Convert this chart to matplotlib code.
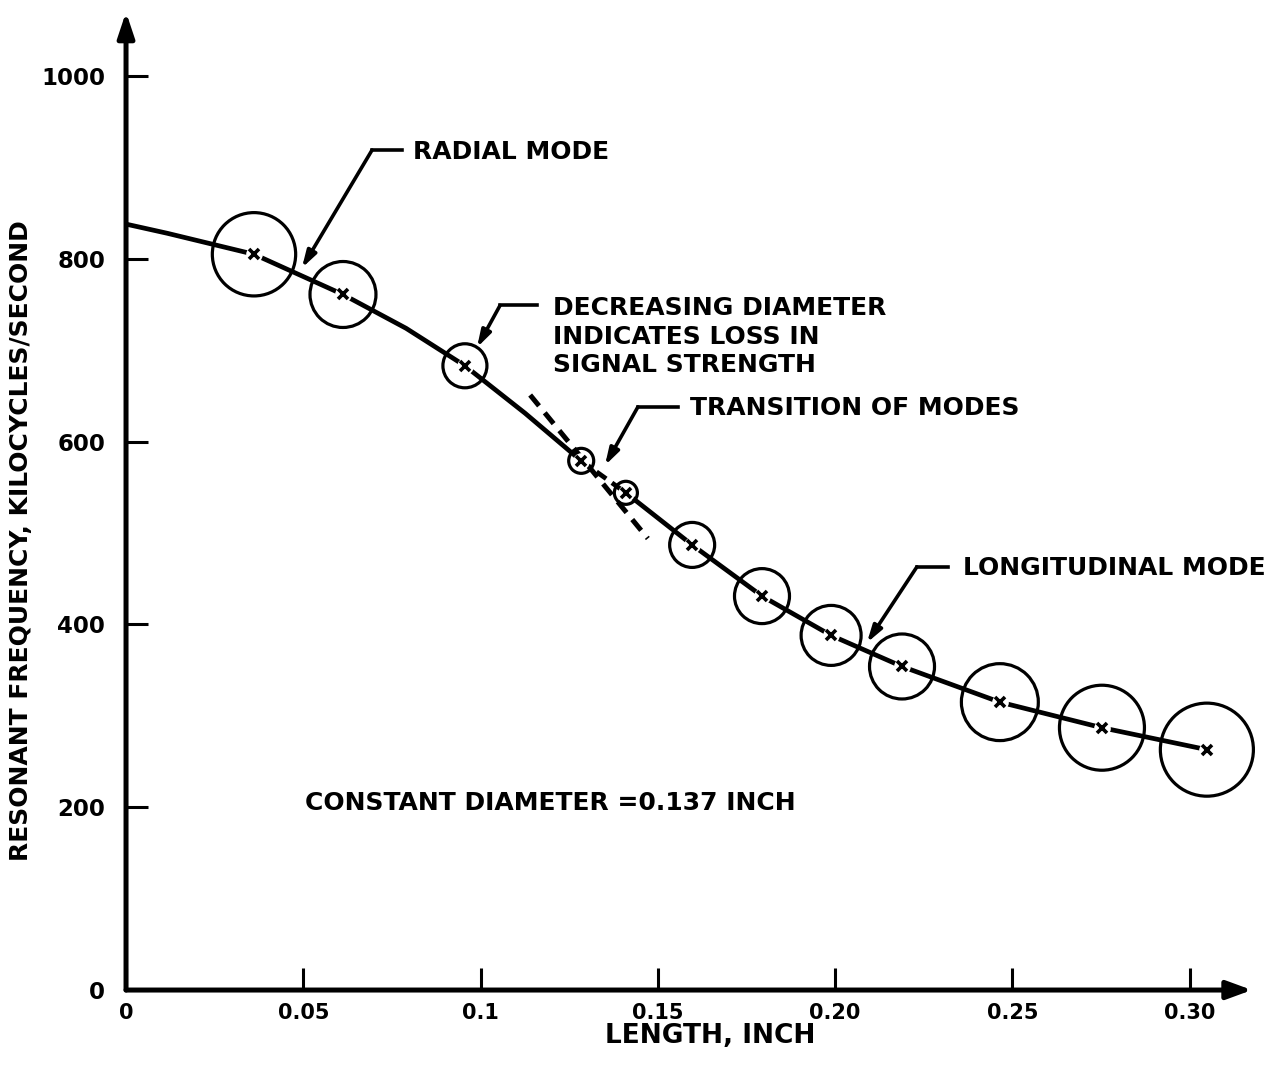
import matplotlib
matplotlib.use("Agg")
import matplotlib.pyplot as plt

# length (inch) vs resonant frequency (kc/s)
length_pts = [0.0361, 0.0612, 0.0956, 0.1284, 0.1410, 0.1597,
              0.1794, 0.1989, 0.2189, 0.2465, 0.2753, 0.3049]
freq_pts = [805, 761, 683, 579, 544, 487, 431, 388, 354, 315, 287, 263]
# circle diameter (points) = signal strength
circle_dia = [60, 47.5, 31.7, 18.0, 16.6, 32.4, 39.6, 43.2, 46.8, 55.4, 61.2, 67.0]

# faired curves
radial_x = [0.0, 0.0116, 0.0361, 0.0612, 0.079, 0.0956, 0.1126, 0.1284]
radial_y = [838, 828, 805, 761, 724, 683, 631, 579]
trans_x = [0.1284, 0.1410]
trans_y = [579, 544]
long_x = [0.1410, 0.1597, 0.1794, 0.1989, 0.2189, 0.2465, 0.2753, 0.3049]
long_y = [544, 487, 431, 388, 354, 315, 287, 263]
radial_ext_x = [0.114, 0.1472]
radial_ext_y = [651, 494]

xticks = [0, 0.05, 0.1, 0.15, 0.20, 0.25, 0.30]
xticklabels = ['0', '0.05', '0.1', '0.15', '0.20', '0.25', '0.30']
yticks = [0, 200, 400, 600, 800, 1000]

plt.rcParams['font.family'] = 'DejaVu Sans'
plt.rcParams['font.weight'] = 'bold'
plt.rcParams['axes.labelweight'] = 'bold'

f = plt.figure(figsize=(12.86, 10.68), dpi=100)
ax = f.add_axes([0.098, 0.073, 0.8821, 0.9157])
ax.set_xlim(0, 0.32)
ax.set_ylim(0, 1070)
for s in ax.spines.values():
    s.set_visible(False)

# axes with arrow heads
ax.annotate('', xy=(0, 1070), xytext=(0, 0), annotation_clip=False,
            arrowprops=dict(arrowstyle='-|>,head_length=1.5,head_width=0.5',
                            lw=3.6, color='k', shrinkA=0, shrinkB=0))
ax.annotate('', xy=(0.3176, 0), xytext=(0, 0), annotation_clip=False,
            arrowprops=dict(arrowstyle='-|>,head_length=1.5,head_width=0.55',
                            lw=3.6, color='k', shrinkA=0, shrinkB=0))

# curves
ax.plot(radial_x, radial_y, '-', c='k', lw=3.4, solid_capstyle='butt')
ax.plot(long_x, long_y, '-', c='k', lw=3.4, solid_capstyle='butt')
ax.plot(trans_x, trans_y, '--', c='k', lw=3.4, dashes=(2.5, 1.5))
ax.plot(radial_ext_x, radial_ext_y, '--', c='k', lw=3.6, dashes=(2.8, 1.8))

# gaps around the points, then the x's and the circles
ax.plot(length_pts, freq_pts, 'o', ms=12, mfc='white', mec='none')
ax.plot(length_pts, freq_pts, 'x', ms=7, mew=2.6, c='k')
ax.scatter(length_pts, freq_pts, s=[d ** 2 for d in circle_dia],
           facecolors='none', edgecolors='k', linewidths=2.3, zorder=3)

# ticks
ax.set_xticks(xticks)
ax.set_xticklabels(xticklabels)
ax.set_yticks(yticks)
ax.tick_params(axis='x', direction='in', length=16, width=2.2, pad=9, labelsize=15)
ax.tick_params(axis='y', direction='in', length=16, width=2.2, pad=15, labelsize=16.5)

ax.set_xlabel('LENGTH, INCH', fontsize=19)
ax.set_ylabel('RESONANT FREQUENCY, KILOCYCLES/SECOND', fontsize=18)
ax.xaxis.set_label_coords(0.515, -0.034)
ax.yaxis.set_label_coords(-0.082, 0.46)


def note(tip, corner, end, txt, tx, ty):
    ax.plot([corner[0], end[0]], [corner[1], end[1]], c='k', lw=2.6)
    ax.annotate('', xy=tip, xytext=corner,
                arrowprops=dict(arrowstyle='-|>,head_length=1.0,head_width=0.3',
                                lw=2.6, color='k', shrinkA=0, shrinkB=0))
    ax.text(tx, ty, txt, fontsize=18, va='center', ha='left', linespacing=1.25)


note((0.0496, 790), (0.0694, 919), (0.0779, 919), 'RADIAL MODE', 0.081, 917)
note((0.099, 703), (0.1055, 749), (0.1159, 749),
     'DECREASING DIAMETER\nINDICATES LOSS IN\nSIGNAL STRENGTH', 0.1204, 715)
note((0.1351, 574), (0.1444, 638), (0.1557, 638), 'TRANSITION OF MODES', 0.1591, 637)
note((0.209, 380), (0.2231, 463), (0.2319, 463), 'LONGITUDINAL MODE', 0.2361, 462)

ax.text(0.0505, 205, 'CONSTANT DIAMETER =0.137 INCH', fontsize=18, va='center', ha='left')

plt.savefig('out.png', dpi=100)
